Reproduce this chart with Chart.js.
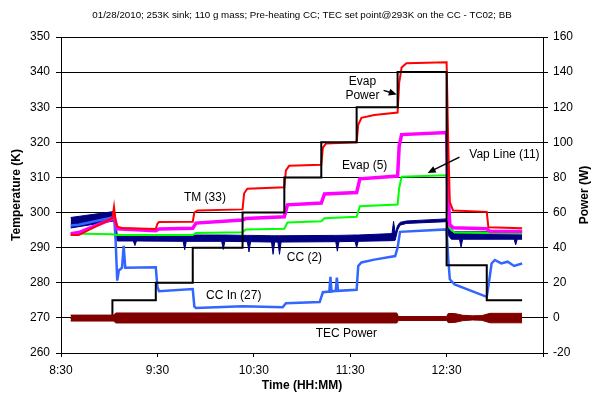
<!DOCTYPE html>
<html>
<head>
<meta charset="utf-8">
<script src="https://cdn.jsdelivr.net/npm/chart.js@4.4.0/dist/chart.umd.min.js"></script>
<style>
  html, body { margin: 0; padding: 0; background: #fff; }
  #wrap { width: 591px; height: 402px; position: relative; }
</style>
</head>
<body>
<div id="wrap"><canvas id="chart"></canvas></div>
<script>
// TC02 run of 01/28/2010: temperatures on the left axis (K), powers on the right axis (W)
const FONT = '"Liberation Sans", Arial, sans-serif';

const tickTimes = ['8:30', '9:30', '10:30', '11:30', '12:30', '13:30'];

// TM (33)
const tmTimes = ['8:36','8:41','9:02','9:03','9:04','9:05','9:08','9:29','9:30','9:31','9:52','9:53','9:55','10:23','10:24','10:26','10:49','10:50','10:52','11:12','11:13','11:15','11:34','11:35','11:37','11:45','11:59.5','12:00.5','12:02','12:05','12:30','12:31','12:32','12:34','12:55','12:56','13:17'];
const tmTemps = [293.6,293.6,298.4,301.6,297.5,296.0,295.6,295.3,296.8,297.3,297.4,300.0,300.6,300.9,305.5,306.8,307.2,312.0,313.3,313.6,318.5,319.7,320.0,325.0,327.0,327.8,328.5,337.0,341.3,342.5,342.8,320.0,303.0,300.6,300.2,295.8,295.5];

// Evap (5)
const evTimes = ['8:36','8:41','9:02','9:03','9:05','9:29','9:31','9:52','9:54','10:23','10:25','10:49','10:51','11:12','11:14','11:34','11:36','11:59.5','12:00.5','12:02','12:30','12:31','12:32','12:34','12:55','12:57','13:17'];
const evTemps = [294.0,294.3,298.2,299.0,295.4,294.8,295.3,295.5,297.0,297.9,298.3,298.8,302.2,302.7,305.3,305.7,309.6,310.4,319.0,322.2,322.8,305.0,296.5,295.7,295.4,294.6,294.6];

// Vap Line (11)
const vlTimes = ['8:36','9:02','9:05','9:52','9:54','10:23','10:25','10:49','10:51','11:12','11:14','11:34','11:36','11:59.5','12:00.5','12:02','12:30','12:31','12:32','12:35','13:17'];
const vlTemps = [294.0,293.8,293.6,293.6,294.2,294.4,295.2,295.4,297.2,297.5,298.4,298.8,301.8,302.3,307.0,310.2,310.6,300.0,295.5,294.3,294.0];

// CC In (27)
const ciTimes = ['8:36','8:41','9:02','9:03','9:04','9:05','9:06','9:08','9:09','9:10','9:29','9:30','9:31','9:52','9:53','9:54','10:23','10:48','10:50','11:11','11:13','11:17','11:17.7','11:18.4','11:21','11:21.7','11:22.4','11:34','11:35','11:37','11:45','11:58','11:59.5','12:01','12:30','12:31','12:32','12:35','12:55','12:56','12:58','13:00','13:04','13:08','13:12','13:17'];
const ciTemps = [296.3,296.5,298.6,299.3,292.0,280.6,283.5,284.3,290.5,284.3,284.4,278.8,277.6,278.2,273.2,272.8,273.3,273.0,274.2,274.5,277.3,277.5,281.7,277.5,277.7,281.5,277.7,278.0,284.8,285.8,286.6,287.6,290.0,294.5,295.2,287.0,281.0,279.5,276.0,279.0,285.5,286.5,285.5,286.0,284.8,285.5];

// CC (2): noisy signal, kept as upper / lower envelope
const ccTimes = ['8:36','9:03','9:04','9:05','9:15','9:16','9:17','9:46','9:47','9:48','10:10','10:11','10:12','10:26','10:27','10:28','10:41','10:42','10:43','10:45','10:46','10:47','11:21','11:22','11:23','11:33','11:34','11:35','11:56','11:57','11:58','11:59.5','12:01','12:05','12:30','12:31','12:33','12:38','12:39','12:40','13:12','13:13','13:14','13:17'];
const ccHigh = [298.6,300.3,297.0,293.7,293.7,293.7,293.7,293.6,293.6,293.6,293.6,293.6,293.6,293.5,293.5,293.5,293.4,293.4,293.4,293.4,293.4,293.4,293.5,293.5,293.5,293.6,293.6,293.6,294.0,297.5,294.1,296.3,297.2,297.6,298.2,295.6,294.5,294.5,294.5,294.5,294.5,294.5,294.5,294.5];
const ccLow  = [295.6,297.6,294.0,291.9,291.9,290.6,291.9,291.8,289.4,291.8,291.8,289.5,291.8,291.7,288.8,291.7,291.6,288.1,291.6,291.6,288.1,291.6,291.7,289.0,291.7,291.8,290.0,291.8,292.0,292.0,292.1,295.0,296.4,296.9,297.4,293.5,292.4,292.4,290.2,292.4,292.4,290.8,292.4,292.4];

// Evap Power (W), each value holds until the next time
const epTimes = ['8:36','9:02','9:29','9:52','10:23','10:49','11:12','11:34','11:59.5','12:30','12:55','13:17'];
const epWatts = [0,10,20,40,60,80,100,120,140,30,10,10];

// TEC Power (W) envelope
const tecTimes = ['8:36','9:03','9:04','11:59','12:00','12:30','12:31','12:35','12:40','12:46','12:52','12:57','13:17'];
const tecHigh = [1.6,1.6,2.8,2.8,0.8,0.8,2.5,2.5,1.5,1.2,1.3,2.6,2.6];
const tecLow  = [-1.8,-1.8,-2.9,-2.9,-1.5,-1.5,-2.7,-2.6,-1.6,-1.2,-1.4,-2.8,-2.8];

// text labels placed in data coordinates (time, K)
const notes = [
  { text: 'TM (33)', t: '9:59.6', v: 304.1 },
  { text: 'Evap (5)', t: '11:39', v: 313.3 },
  { text: 'Vap Line (11)', t: '13:06', v: 316.6 },
  { text: 'Evap', t: '11:37.6', v: 337.4 },
  { text: 'Power', t: '11:37.6', v: 333.4 },
  { text: 'CC (2)', t: '11:01.5', v: 287.1 },
  { text: 'CC In (27)', t: '10:17.5', v: 276.4 },
  { text: 'TEC Power', t: '11:27.6', v: 265.5 }
];
const arrows = [
  { from: ['11:50.8', 334.8], to: ['11:59', 333.6] },
  { from: ['12:38', 315.8], to: ['12:18.2', 311.3] }
];

const toMin = s => { const [h, m] = s.split(':'); return h * 60 + parseFloat(m); };
const pts = (times, vals) => times.map((t, i) => ({ x: toMin(t), y: vals[i] }));

const line = (label, times, vals, color, width, axis) => ({
  label, data: pts(times, vals), borderColor: color, backgroundColor: color,
  borderWidth: width, pointRadius: 0, yAxisID: axis || 'y', fill: false, tension: 0
});

const annotate = {
  id: 'annotate',
  afterDraw(chart) {
    const { ctx, scales: { x, y }, chartArea: a } = chart;
    ctx.save();
    ctx.fillStyle = '#000';
    ctx.textAlign = 'center';
    ctx.textBaseline = 'middle';

    ctx.font = '9.75px ' + FONT;
    ctx.fillText('01/28/2010; 253K sink; 110 g mass; Pre-heating CC; TEC set point@293K on the CC - TC02; BB', (a.left + a.right) / 2, 15);

    ctx.font = 'bold 12px ' + FONT;
    ctx.fillText('Time (HH:MM)', (a.left + a.right) / 2, 386);
    ctx.save();
    ctx.translate(17, (a.top + a.bottom) / 2);
    ctx.rotate(-Math.PI / 2);
    ctx.fillText('Temperature (K)', 0, 0);
    ctx.restore();
    ctx.save();
    ctx.translate(585, (a.top + a.bottom) / 2);
    ctx.rotate(-Math.PI / 2);
    ctx.fillText('Power (W)', 0, 0);
    ctx.restore();

    ctx.font = '12px ' + FONT;
    notes.forEach(n => ctx.fillText(n.text, x.getPixelForValue(toMin(n.t)), y.getPixelForValue(n.v)));

    ctx.strokeStyle = '#000';
    ctx.lineWidth = 1.5;
    arrows.forEach(ar => {
      const x1 = x.getPixelForValue(toMin(ar.from[0])), y1 = y.getPixelForValue(ar.from[1]);
      const x2 = x.getPixelForValue(toMin(ar.to[0])), y2 = y.getPixelForValue(ar.to[1]);
      const ang = Math.atan2(y2 - y1, x2 - x1);
      ctx.beginPath();
      ctx.moveTo(x1, y1);
      ctx.lineTo(x2 - 5 * Math.cos(ang), y2 - 5 * Math.sin(ang));
      ctx.stroke();
      ctx.beginPath();
      ctx.moveTo(x2, y2);
      ctx.lineTo(x2 - 8 * Math.cos(ang) + 3.5 * Math.sin(ang), y2 - 8 * Math.sin(ang) - 3.5 * Math.cos(ang));
      ctx.lineTo(x2 - 8 * Math.cos(ang) - 3.5 * Math.sin(ang), y2 - 8 * Math.sin(ang) + 3.5 * Math.cos(ang));
      ctx.closePath();
      ctx.fill();
    });
    ctx.restore();
  }
};

new Chart(document.getElementById('chart'), {
  type: 'line',
  data: {
    datasets: [
      { ...line('TEC Power', tecTimes, tecHigh, '#800000', 1, 'y1'), fill: '+1' },
      line('TEC Power min', tecTimes, tecLow, '#800000', 1, 'y1'),
      { ...line('Evap Power', epTimes, epWatts, '#000000', 2, 'y1'), stepped: 'before' },
      line('TM (33)', tmTimes, tmTemps, '#FF0000', 2),
      line('Evap (5)', evTimes, evTemps, '#FF00FF', 3.5),
      line('Vap Line (11)', vlTimes, vlTemps, '#00FF00', 2),
      line('CC In (27)', ciTimes, ciTemps, '#3366FF', 2.5),
      { ...line('CC (2)', ccTimes, ccHigh, '#000080', 1), fill: '+1' },
      line('CC (2) min', ccTimes, ccLow, '#000080', 1)
    ]
  },
  options: {
    responsive: true,
    maintainAspectRatio: false,
    animation: false,
    layout: { padding: { top: 37, left: 0, right: 0, bottom: 0 } },
    plugins: { legend: { display: false }, tooltip: { enabled: false } },
    scales: {
      x: {
        type: 'linear',
        min: toMin(tickTimes[0]),
        max: toMin(tickTimes[tickTimes.length - 1]),
        afterBuildTicks: s => { s.ticks = tickTimes.map(t => ({ value: toMin(t) })); },
        afterFit: s => { s.height = 49; },
        ticks: {
          autoSkip: false, maxRotation: 0, padding: 6, color: '#000',
          font: { family: FONT, size: 12 },
          callback: (v, i) => (i < tickTimes.length - 1 ? tickTimes[i] : '')
        },
        grid: { drawOnChartArea: false, tickLength: 4, color: '#000' },
        border: { color: '#000', width: 1 }
      },
      y: {
        position: 'left', min: 260, max: 350,
        afterFit: s => { s.width = 61; },
        ticks: { stepSize: 10, padding: 6, color: '#000', font: { family: FONT, size: 12 } },
        grid: { color: '#000', lineWidth: 1, tickLength: 5 },
        border: { color: '#000', width: 1 }
      },
      y1: {
        position: 'right', min: -20, max: 160,
        afterFit: s => { s.width = 48; },
        ticks: { stepSize: 20, padding: 5, color: '#000', font: { family: FONT, size: 12 } },
        grid: { drawOnChartArea: false, color: '#000', tickLength: 5 },
        border: { color: '#000', width: 1 }
      }
    }
  },
  plugins: [annotate]
});
</script>
</body>
</html>
